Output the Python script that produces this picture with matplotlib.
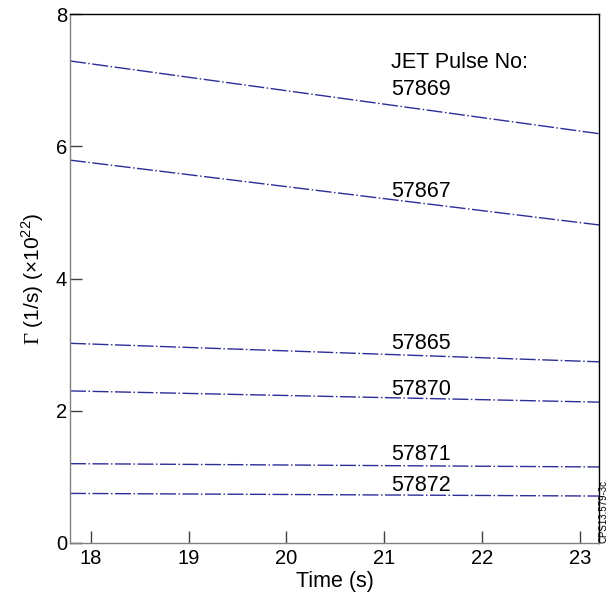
import matplotlib
matplotlib.use("Agg")
import matplotlib.pyplot as plt

plt.rcParams['font.family'] = ['Liberation Sans', 'DejaVu Sans']
plt.rcParams['mathtext.fontset'] = 'custom'
plt.rcParams['mathtext.rm'] = 'Liberation Sans'
plt.rcParams['mathtext.sf'] = 'Liberation Serif'

# valores (inicio e fim de cada reta)
time_span = [17.79, 23.19]
pulses = ['57869', '57867', '57865', '57870', '57871', '57872']
gamma_start = [7.29, 5.79, 3.02, 2.30, 1.20, 0.75]
gamma_end = [6.19, 4.81, 2.74, 2.13, 1.15, 0.71]
label_y = [6.78, 5.23, 2.93, 2.24, 1.25, 0.79]
label_x = 21.07

x_ticks = [18, 19, 20, 21, 22, 23]
y_ticks = [0, 2, 4, 6, 8]

fig = plt.figure(figsize=(6.08, 5.96), dpi=100)
ax = fig.add_axes([70 / 608, 53 / 596, 529 / 608, 529 / 596])

for p, g0, g1, ly in zip(pulses, gamma_start, gamma_end, label_y):
    ax.plot(time_span, [g0, g1], color='#2d2d98', lw=1.0,
            dashes=(11.5, 1.8, 1.1, 1.8))
    ax.text(label_x, ly, p, fontsize=15.5, va='baseline', ha='left')

ax.text(label_x, 7.18, 'JET Pulse No:', fontsize=15.5, va='baseline', ha='left')

ax.set_xlim(time_span[0], time_span[1])
ax.set_ylim(0, 8)
ax.set_xticks(x_ticks)
ax.set_yticks(y_ticks)
ax.tick_params(axis='both', direction='in', length=8.5, width=1.0,
               color='#404040', labelsize=14.5)
ax.tick_params(axis='x', pad=4.5)
ax.tick_params(axis='y', pad=2)

ax.spines['left'].set_color('#808080')
ax.spines['bottom'].set_color('#808080')
ax.spines['top'].set_color('black')
ax.spines['right'].set_color('black')
for s in ax.spines.values():
    s.set_linewidth(1.0)

ax.set_xlabel('Time (s)', fontsize=15.5, labelpad=2)
ax.set_ylabel(r'$\mathsf{\Gamma}$ (1/s) (×10$^{22}$)', fontsize=15, labelpad=7)

fig.text(603.5 / 608, 53 / 596, 'CPS13.579-3c', rotation=90, fontsize=7,
         ha='center', va='bottom')

plt.savefig('out.png', dpi=100)
